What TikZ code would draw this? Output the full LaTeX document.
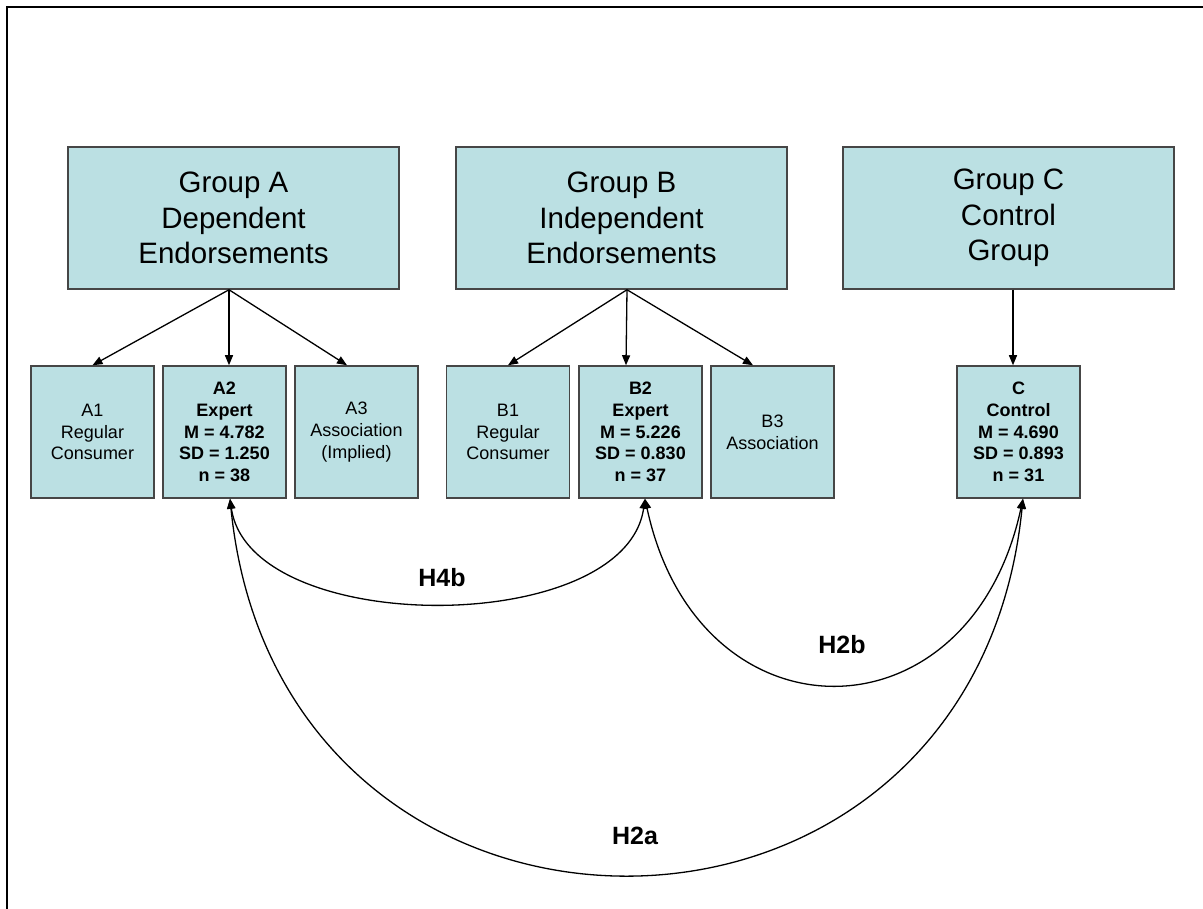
\documentclass[tikz,border=0pt]{standalone}
\usepackage{fontspec}
\setmainfont{Liberation Sans}
\usetikzlibrary{arrows.meta}
\definecolor{boxfill}{RGB}{187,224,227}
\definecolor{boxline}{RGB}{70,70,70}
\tikzset{
  grp/.style={draw=boxline, line width=1.5pt, fill=boxfill, minimum width=331pt, minimum height=142pt, inner sep=0pt, align=center, font=\fontsize{29.5}{35.5}\selectfont},
  sub/.style={draw=boxline, line width=1.5pt, fill=boxfill, minimum width=123pt, minimum height=132pt, inner sep=0pt, align=center, font=\fontsize{18}{21.7}\selectfont},
  subb/.style={sub, font=\bfseries\fontsize{18}{21.7}\selectfont},
  arr/.style={line width=1.3pt, -{Triangle[length=10pt,width=8pt]}},
  darr/.style={line width=1.3pt, {Triangle[length=10pt,width=8pt]}-{Triangle[length=10pt,width=8pt]}},
  hyp/.style={font=\bfseries\fontsize{25}{30}\selectfont, inner sep=0pt},
  frame/.style={line width=2.5pt}
}
\begin{document}
\begin{tikzpicture}[x=1pt, y=-1pt]
\useasboundingbox (0,0) rectangle (1203,909);
\draw[frame] (1203,7) -- (7,7) -- (7,909);

\node[grp] (GA) at (233.5,218) {Group A\\Dependent\\Endorsements};
\node[grp] (GB) at (621.5,218) {Group B\\Independent\\Endorsements};
\node[grp] (GC) at (1008.5,218) {Group C\\Control\\Group};

\node[sub]  (A1) at (92.5,432)  {A1\\Regular\\Consumer};
\node[subb] (A2) at (224.5,432) {A2\\Expert\\M = 4.782\\SD = 1.250\\n = 38};
\node[sub]  (A3) at (356.5,432) {A3\\Association\\(Implied)};
\node[sub]  (B1) at (508,432)   {B1\\Regular\\Consumer};
\node[subb] (B2) at (640.5,432) {B2\\Expert\\M = 5.226\\SD = 0.830\\n = 37};
\node[sub]  (B3) at (772.5,432) {B3\\Association};
\node[subb] (C)  at (1018.5,432) {C\\Control\\M = 4.690\\SD = 0.893\\n = 31};

\draw[arr] ([xshift=-4.5pt]GA.south) -- (A1.north);
\draw[arr] ([xshift=-4.5pt]GA.south) -- ([xshift=4.5pt]A2.north);
\draw[arr] ([xshift=-4.5pt]GA.south) -- ([xshift=-9.5pt]A3.north);
\draw[arr] ([xshift=5.5pt]GB.south) -- (B1.north);
\draw[arr] ([xshift=5.5pt]GB.south) -- ([xshift=-14.5pt]B2.north);
\draw[arr] ([xshift=5.5pt]GB.south) -- ([xshift=-19.5pt]B3.north);
\draw[arr] ([xshift=4.5pt]GC.south) -- ([xshift=-5.5pt]C.north);

\coordinate (A2b) at ([xshift=5.5pt]A2.south);
\coordinate (B2b) at ([xshift=4.5pt]B2.south);
\coordinate (Cb)  at ([xshift=4.5pt]C.south);

\draw[darr] (A2b) .. controls +(20,139) and +(-20,139) .. (B2b);
\draw[darr] (B2b) .. controls +(53,247) and +(-53,247) .. (Cb);
\draw[darr] (A2b) .. controls +(50,500) and +(-50,500) .. (Cb);

\node[hyp] (H4b) at (442,578) {H4b};
\node[hyp] (H2b) at (842,645) {H2b};
\node[hyp] (H2a) at (635,836) {H2a};
\end{tikzpicture}
\end{document}
